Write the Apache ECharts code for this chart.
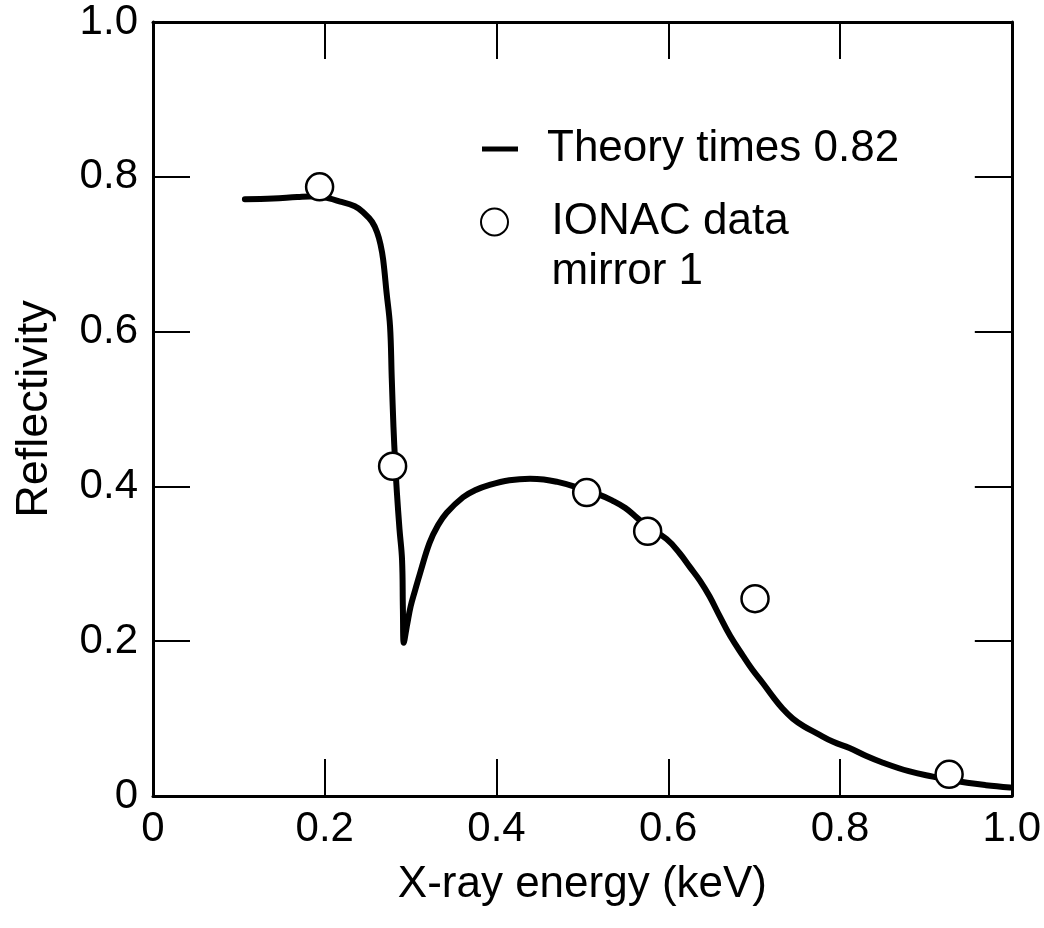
<!DOCTYPE html>
<html>
<head>
<meta charset="utf-8">
<script src="https://cdn.jsdelivr.net/npm/echarts@6/dist/echarts.min.js"></script>
<style>
html,body{margin:0;padding:0;background:#fff;}
#chart{width:1044px;height:928px;}
</style>
</head>
<body>
<div id="chart"></div>
<script>
// Theory curve (times 0.82): energy (keV) and reflectivity
const theoryX = [0.107,0.14,0.168,0.19,0.218,0.235,0.245,0.255,0.261,0.265,0.268,0.272,0.276,0.278,0.280,0.282,0.284,0.287,0.290,0.291,0.292,0.296,0.300,0.305,0.311,0.322,0.332,0.342,0.361,0.375,0.392,0.415,0.439,0.455,0.470,0.490,0.505,0.520,0.536,0.550,0.563,0.576,0.598,0.613,0.625,0.637,0.648,0.660,0.672,0.687,0.698,0.710,0.722,0.733,0.745,0.758,0.773,0.792,0.811,0.830,0.850,0.880,0.908,0.927,0.948,0.970,0.998];
const theoryY = [0.771,0.772,0.774,0.775,0.768,0.762,0.754,0.742,0.728,0.712,0.693,0.650,0.607,0.540,0.477,0.430,0.392,0.345,0.305,0.240,0.198,0.222,0.245,0.265,0.288,0.327,0.350,0.366,0.386,0.395,0.402,0.408,0.410,0.409,0.406,0.400,0.393,0.389,0.381,0.372,0.360,0.348,0.332,0.314,0.296,0.278,0.258,0.232,0.207,0.181,0.163,0.146,0.128,0.113,0.100,0.090,0.081,0.070,0.062,0.052,0.043,0.032,0.025,0.021,0.017,0.014,0.011];
// IONAC data, mirror 1
const dataX = [0.194,0.279,0.505,0.576,0.701,0.927];
const dataY = [0.787,0.426,0.392,0.342,0.255,0.028];
// Tick labels
const tickValues = [0,0.2,0.4,0.6,0.8,1.0];
const tickLabels = ['0','0.2','0.4','0.6','0.8','1.0'];
const seriesNames = ['Theory times 0.82','IONAC data\nmirror 1'];
const axisNames = ['X-ray energy (keV)','Reflectivity'];

const FONT = '"Liberation Sans", Arial, Helvetica, sans-serif';
const fmt = v => { const i = tickValues.findIndex(t => Math.abs(t - v) < 1e-9); return i >= 0 ? tickLabels[i] : ''; };

const chart = echarts.init(document.getElementById('chart'));
const lineCommon = {onZero:false,lineStyle:{color:'#000',width:3}};
const tickCommon = {inside:true,length:37,lineStyle:{color:'#000',width:2}};
chart.setOption({
  animation:false,
  backgroundColor:'#fff',
  textStyle:{fontFamily:FONT,color:'#000'},
  grid:{left:153,right:32,top:22,bottom:132,containLabel:false},
  legend:[
    {data:[{name:seriesNames[0],icon:'rect'}],orient:'vertical',left:477,top:119,itemWidth:36,itemHeight:5,
     itemStyle:{color:'#000'},
     textStyle:{fontFamily:FONT,fontSize:44,color:'#000',lineHeight:50,padding:[0,0,0,24]},selectedMode:false},
    {data:[{name:seriesNames[1],icon:'circle'}],orient:'vertical',left:475,top:142,itemWidth:32,itemHeight:27,
     formatter: n => '\n' + n,
     textStyle:{fontFamily:FONT,fontSize:44,color:'#000',lineHeight:50,padding:[0,0,0,36]},selectedMode:false}
  ],
  xAxis:[
    {type:'value',min:0,max:1,interval:0.2,position:'bottom',
     name:axisNames[0],nameLocation:'middle',nameGap:67,
     nameTextStyle:{fontFamily:FONT,fontSize:44,color:'#000'},
     axisLine:lineCommon,axisTick:tickCommon,splitLine:{show:false},
     axisLabel:{formatter:fmt,fontFamily:FONT,fontSize:42,color:'#000',margin:12}},
    {type:'value',min:0,max:1,interval:0.2,position:'top',
     axisLine:lineCommon,axisTick:tickCommon,splitLine:{show:false},axisLabel:{show:false}}
  ],
  yAxis:[
    {type:'value',min:0,max:1,interval:0.2,position:'left',
     name:axisNames[1],nameLocation:'middle',nameGap:96,
     nameTextStyle:{fontFamily:FONT,fontSize:45,color:'#000'},
     axisLine:lineCommon,axisTick:tickCommon,splitLine:{show:false},
     axisLabel:{formatter:fmt,fontFamily:FONT,fontSize:42,color:'#000',margin:15}},
    {type:'value',min:0,max:1,interval:0.2,position:'right',
     axisLine:lineCommon,axisTick:tickCommon,splitLine:{show:false},axisLabel:{show:false}}
  ],
  series:[
    {name:seriesNames[0],type:'line',data:theoryX.map((x,i)=>[x,theoryY[i]]),
     symbol:'none',smooth:0.4,
     lineStyle:{color:'#000',width:6,join:'round',cap:'round'},itemStyle:{color:'#000'},z:2},
    {name:seriesNames[1],type:'scatter',data:dataX.map((x,i)=>[x,dataY[i]]),
     symbol:'circle',symbolSize:27,
     itemStyle:{color:'#fff',borderColor:'#000',borderWidth:2.5,opacity:1},z:3}
  ]
});
</script>
</body>
</html>
